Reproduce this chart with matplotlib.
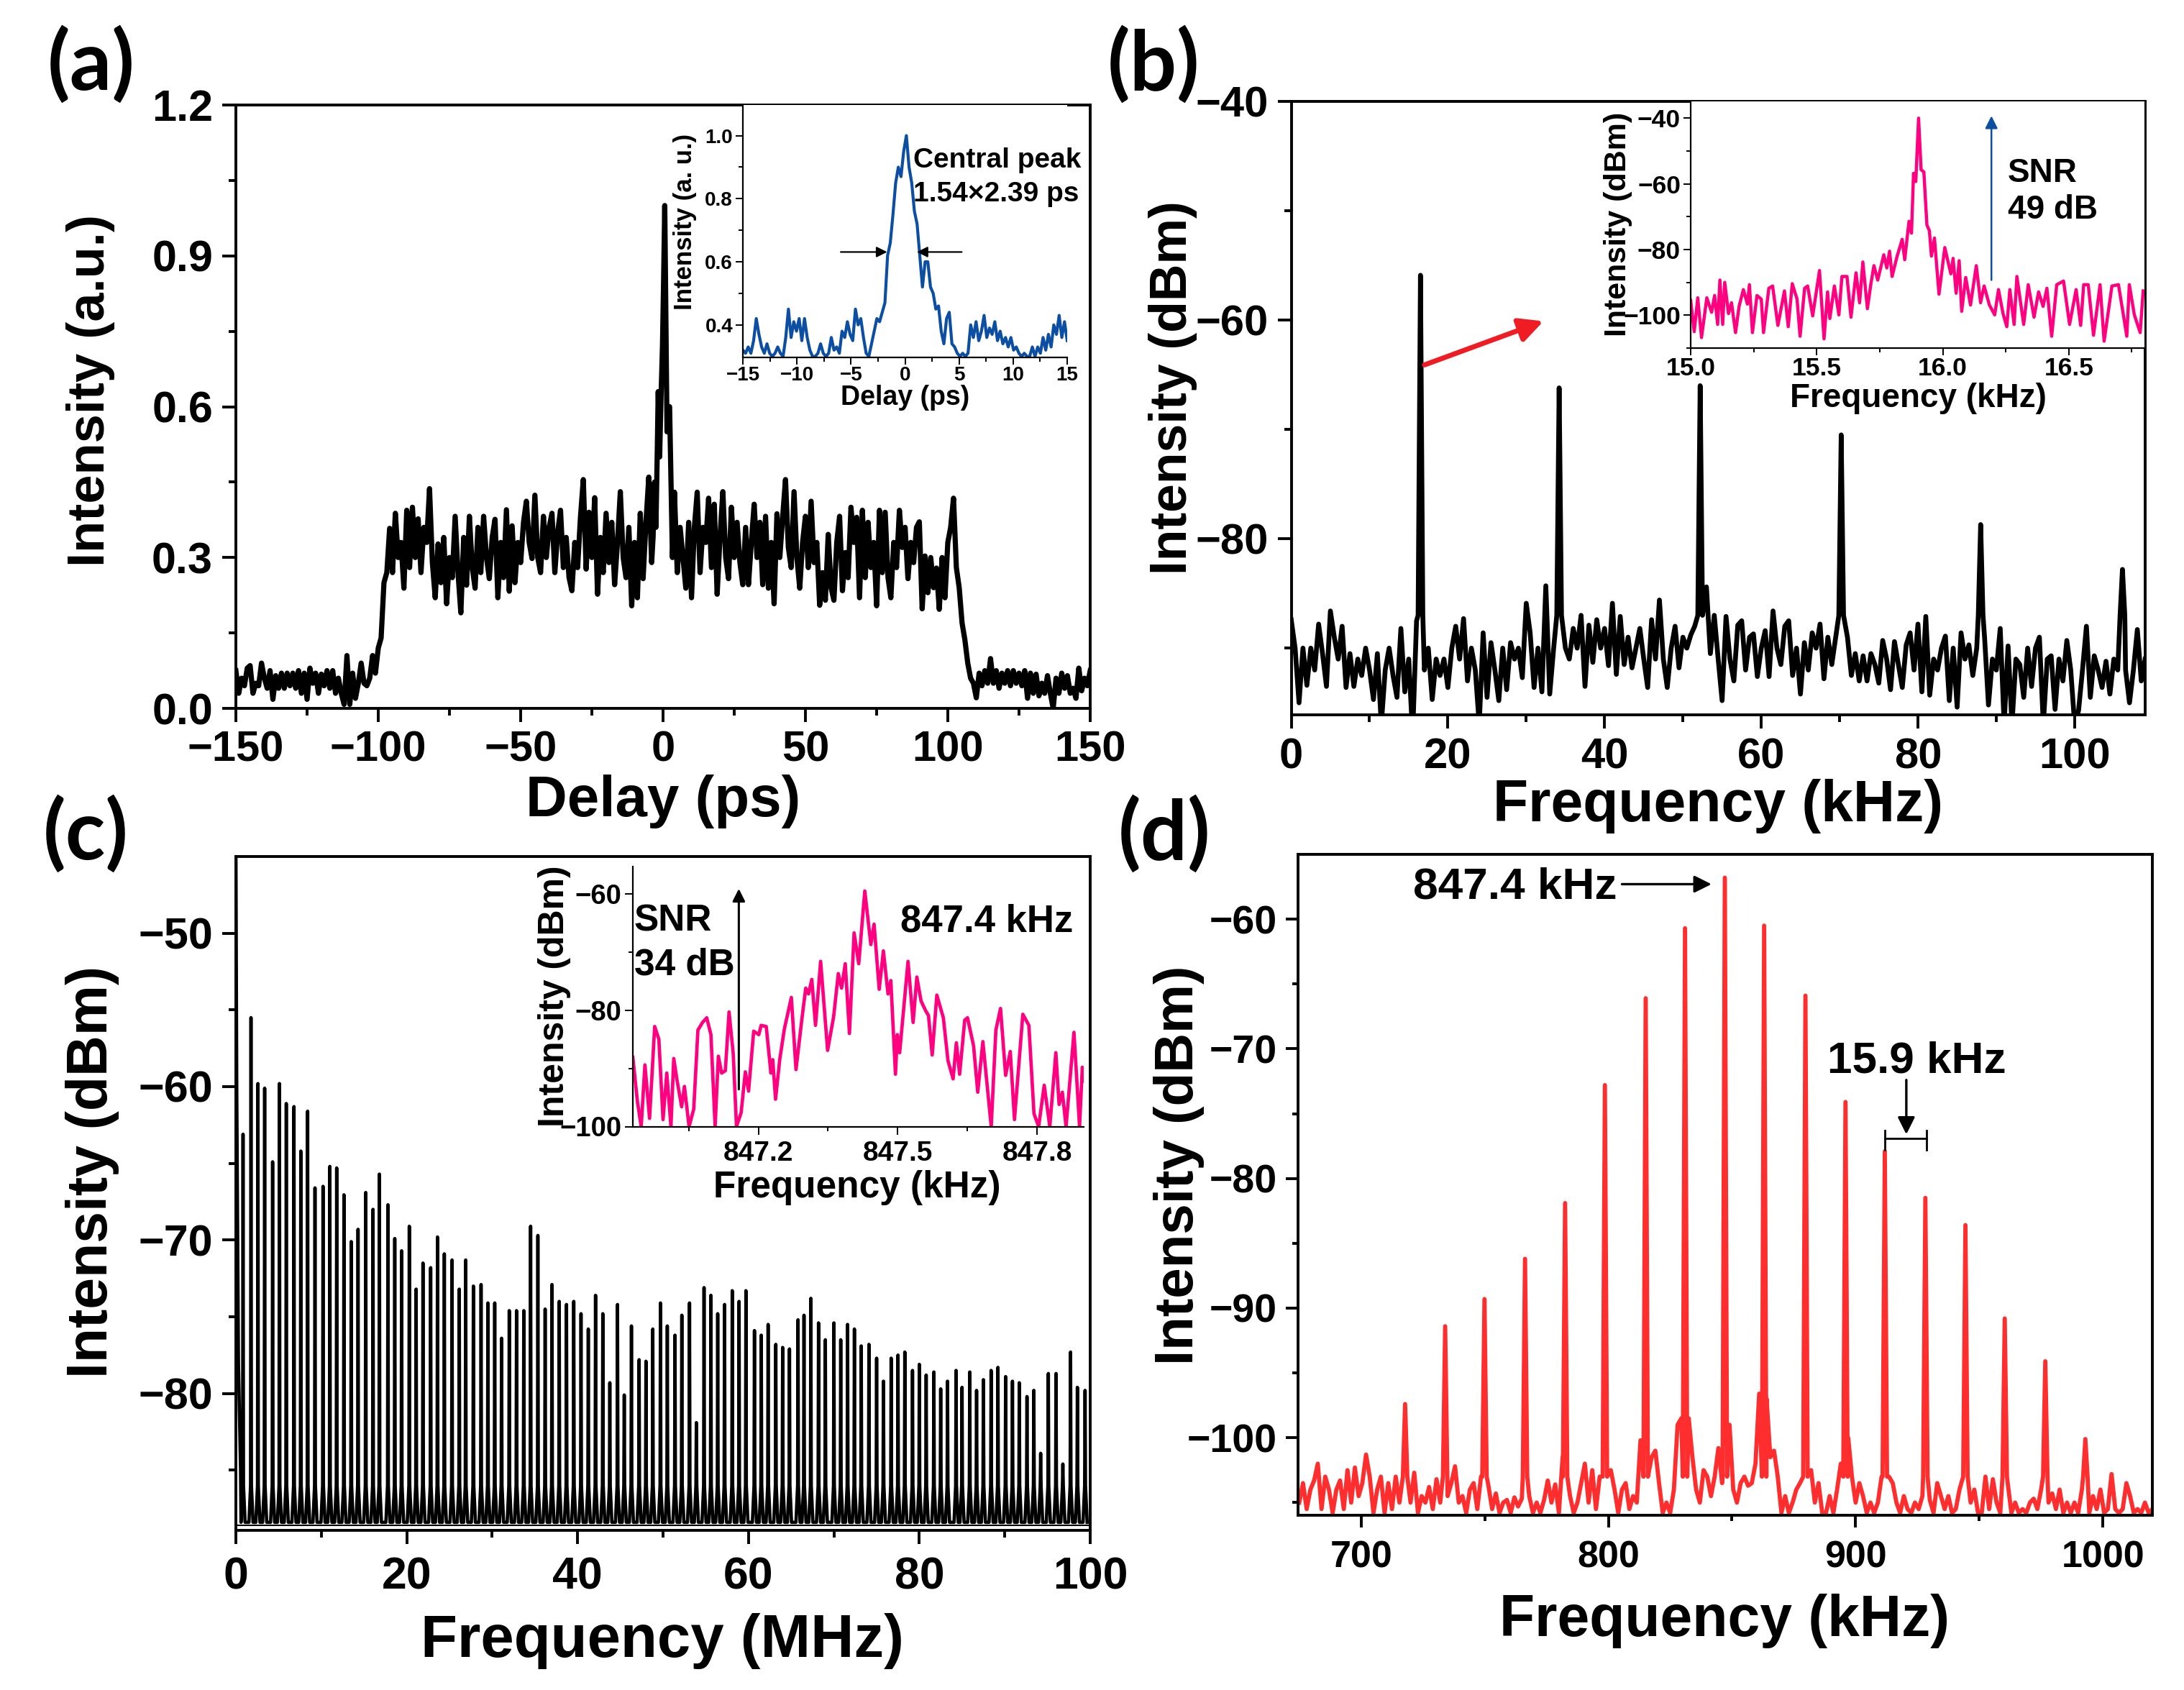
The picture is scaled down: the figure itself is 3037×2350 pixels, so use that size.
#Four panel spectrum figure
import numpy as np
import matplotlib
matplotlib.use('Agg')
import matplotlib.pyplot as plt
from matplotlib.transforms import Affine2D

W, H = 3037, 2350

plt.rcParams['font.family'] = ['Liberation Sans', 'DejaVu Sans']
plt.rcParams['font.weight'] = 'bold'
plt.rcParams['axes.labelweight'] = 'bold'
plt.rcParams['axes.unicode_minus'] = True

#(a) main trace
a_left = [.075,.03,.06,.045,.08,.085,.03,.05,.045,.09,.06,.04,.075,.018,.065,.04,.07,.04,.07,.045,.07,.04,.075,.03,.07,.018,
          .08,.05,.07,.03,.068,.045,.075,.04,.075,.03,.06,.03,.008,.105,.008,.07,.02,.05,.09,.05,.045,.06,.105,.07,.12,.14,.25,
          .27,.358,.27,.388,.30,.33,.239,.394,.28,.40,.30,.377,.27,.36,.33,.437,.29,.22,.327,.25,.34,.208,.30,.26,.382,.27,.19,
          .34,.245,.382,.28,.239,.36,.27,.382,.30,.258,.34,.376,.22,.33,.26,.395,.233,.363,.25,.33,.29,.37,.412,.33,.298,.424,
          .30,.27,.382,.30,.36,.388,.27,.35,.394,.28,.34,.26,.234,.33,.28,.38,.455,.277,.39,.30,.419,.227,.34,.27,.388,.29,.37,
          .246,.33,.431,.30,.26,.36,.204,.33,.22,.388,.258,.37,.46,.29]
a_center_x = [-3.5,-3,-2.5,-2,-1.7,-1.2,-.7,-.2,.2,.6,1,1.4,1.9,2.3,2.8,3.3,3.7]
a_center_y = [.34,.45,.36,.52,.63,.50,.62,.72,.85,1.0,.78,.55,.60,.60,.45,.30,.36]
a_right = [.43,.27,.36,.30,.239,.37,.22,.36,.43,.27,.36,.33,.418,.28,.406,.227,.34,.431,.30,.258,.40,.30,.37,.29,.246,.36,.246,
           .33,.406,.30,.37,.246,.382,.239,.33,.208,.387,.30,.38,.455,.32,.28,.431,.30,.239,.33,.382,.28,.412,.29,.33,.205,.27,
           .215,.346,.24,.215,.33,.382,.234,.31,.26,.40,.33,.38,.22,.394,.26,.37,.28,.33,.204,.394,.27,.39,.26,.22,.33,.28,.394,
           .32,.36,.258,.33,.29,.36,.371,.198,.303,.23,.30,.24,.279,.197,.30,.22,.33,.36,.418,.28,.24,.17,.136,.09,.06,.05,.021,
           .07,.045,.075,.05,.099,.05,.075,.04,.07,.05,.075,.045,.075,.05,.07,.045,.075,.02,.07,.03,.068,.025,.05,.03,.065,.03,
           0.0,.06,.03,.07,.04,.065,.03,.04,.02,.08,.035,.06,.045,.075]

#(a) inset
a_inset = [.32,.31,.33,.31,.35,.42,.37,.33,.31,.34,.31,.30,.31,.33,.31,.30,.36,.45,.36,.41,.38,.42,.35,.42,.36,.32,.30,.30,.31,.34,
           .31,.30,.31,.36,.32,.33,.31,.38,.36,.41,.37,.35,.45,.40,.42,.36,.31,.30,.34,.38,.42,.41,.44,.47,.62,.66,.75,.85,.90,.87,
           .95,1.0,.90,.85,.76,.72,.62,.52,.60,.60,.52,.50,.45,.46,.38,.34,.42,.44,.34,.33,.31,.30,.31,.30,.31,.40,.36,.41,.35,.38,
           .43,.36,.39,.37,.41,.35,.38,.34,.36,.33,.36,.32,.33,.31,.30,.31,.30,.30,.33,.30,.33,.31,.36,.32,.37,.33,.40,.37,.43,.36,.41,.35]

#(b) main noise floor and tones
b_noise = [-87.4,-90,-95,-90,-93.4,-90,-92,-87.8,-90.5,-93.5,-86.6,-89,-91,-88,-93.6,-90.5,-93.5,-91,-92.5,-90,-92,-94.7,-90.5,-97,
           -92,-90,-92.5,-94.5,-88.2,-94,-91,-98,-87.5,-88,-92,-90,-94.7,-91,-92.5,-91,-93.6,-90,-88,-91,-87.3,-93,-90,-92,-97,-88.6,
           -94.5,-89.5,-92,-94.8,-90,-93.8,-89.5,-91,-90,-92.7,-85.9,-88.6,-93.6,-90,-94,-84.3,-94.2,-90,-88,-88,-90,-91,-88.2,-90,-87,
           -93.5,-87.9,-91.3,-87.4,-90,-88.2,-91.6,-85.9,-92.4,-87.1,-91.5,-89,-91.8,-90,-88.2,-91,-93.6,-87.4,-91,-85.6,-91,-93.6,-90,
           -88,-91.8,-89,-90,-88.8,-88,-86,-85,-84.4,-90.5,-87,-91,-94.8,-87.1,-91,-93,-87.9,-87.5,-92,-89,-88.7,-92.6,-90,-88.4,-92.6,
           -86.6,-90,-91.5,-88,-87.5,-92.5,-90,-94.2,-89.5,-92,-88.6,-90,-87.8,-92.8,-89,-91.5,-89,-88,-88,-89,-92.5,-90.5,-93,-90.7,-93,
           -90.5,-91.5,-93.2,-89.3,-91,-93.8,-89.4,-91.5,-93.6,-89.7,-88.6,-92,-87.8,-94,-87.1,-94.3,-91,-92,-90,-88.9,-94.8,-90,-95.4,
           -88.6,-91,-89.7,-92.5,-90,-88,-89,-95.2,-91,-92,-88.2,-97,-89.8,-97,-91,-91.5,-94.5,-90,-93.5,-90,-89,-97,-91,-90.7,-95.6,-91,
           -93,-89.3,-92,-97,-95.7,-92,-88,-94.5,-90.7,-92,-93.6,-91.2,-94.2,-91,-92,-88,-92,-95,-92,-88.3,-93,-91]
b_peak_freq = [16.5, 34.2, 52.2, 70.2, 88.0, 106.1]
b_peak_level = [-55.9, -66.2, -66.0, -70.5, -78.7, -82.8]

#(b) inset
b_inset_freq = [15.000,15.014,15.028,15.043,15.064,15.083,15.095,15.107,15.116,15.127,15.135,15.150,15.162,15.178,15.192,15.209,
                15.225,15.233,15.245,15.263,15.280,15.289,15.310,15.325,15.346,15.372,15.387,15.403,15.422,15.434,15.452,15.464,
                15.484,15.511,15.529,15.543,15.552,15.570,15.588,15.600,15.620,15.636,15.656,15.670,15.683,15.701,15.715,15.727,
                15.742,15.766,15.778,15.789,15.799,15.819,15.839,15.849,15.866,15.876,15.884,15.893,15.904,15.914,15.925,15.937,
                15.947,15.955,15.967,15.985,16.008,16.032,16.041,16.053,16.065,16.075,16.091,16.110,16.133,16.150,16.164,16.185,
                16.206,16.221,16.239,16.254,16.266,16.283,16.294,16.321,16.339,16.362,16.380,16.398,16.413,16.432,16.452,16.479,
                16.503,16.529,16.547,16.559,16.577,16.598,16.624,16.640,16.671,16.697,16.730,16.740,16.760,16.783,16.795]
b_inset_level = [-95.5,-105,-94.7,-106.8,-94.7,-99.1,-94,-102.8,-89.3,-102.8,-90,-99.5,-96.2,-105.3,-97.3,-92.2,-96.6,-90.7,-105.3,-94,
                 -95.1,-105.3,-91.8,-91.1,-103.1,-92.6,-103.5,-90.4,-95.1,-106.4,-91.8,-91.1,-100.2,-86.4,-107.2,-92.9,-101,-91.1,-99.9,
                 -88.2,-88.2,-100.6,-87.1,-96.2,-83.8,-98,-90.4,-84.9,-89.3,-81.6,-85.6,-80.5,-88.2,-82,-76.9,-83.1,-71.4,-75,-56.8,-59.3,
                 -40,-55.7,-56.4,-72.5,-74.3,-82,-76.5,-93.6,-79.4,-87.4,-82.7,-93.3,-83.4,-98.8,-88.5,-96.9,-84.9,-96.2,-91.1,-96.9,-99.9,
                 -92.2,-99.5,-103.5,-92.2,-102.8,-88.2,-102.8,-90.7,-100.6,-92.9,-97.3,-91.8,-106.4,-90.7,-89.6,-102.8,-92.2,-103.1,-90.7,
                 -90.7,-106.1,-90.7,-107.9,-91.1,-90.7,-106.4,-90.7,-99.9,-105.3,-92.6]

#(c) main comb
c_tooth_freq = [.84,1.77,2.58,3.37,4.3,5.1,5.9,6.8,7.6,8.4,9.26,10.2,11,11.8,12.65,13.5,14.3,15.2,16.05,16.8,17.8,18.6,19.4,20.3,21.1,
                21.9,22.8,23.6,24.4,25.3,26.15,26.9,27.8,28.7,29.5,30.3,31.1,32,32.85,33.7,34.5,35.35,36.2,37,37.85,38.7,39.55,40.4,
                41.25,42.1,42.95,43.77,44.67,45.46,46.3,47.2,48,48.8,49.7,50.5,51.4,52.2,53.1,53.9,54.8,55.6,56.4,57.2,58.1,58.9,59.7,
                60.7,61.5,62.3,63.2,64,64.8,65.8,66.5,67.3,68.2,69,70,70.8,71.6,72.4,73.2,74.1,75,75.8,76.7,77.5,78.3,79.2,80,80.8,81.7,
                82.5,83.3,84.3,85,85.9,86.7,87.5,88.4,89.2,90.1,90.9,91.7,92.6,93.4,94.2,95.1,96,96.8,97.7,98.5,99.4]
c_tooth_level = [-63.1,-55.5,-59.8,-60.1,-64.9,-59.8,-61.1,-61.3,-64.2,-61.6,-66.6,-66.5,-65.2,-65.3,-67.05,-70.1,-69.3,-66.9,-68,-65.7,-67.7,
                 -69.9,-70.7,-69.1,-73.2,-71.5,-71.8,-69.8,-70.9,-71.3,-73.2,-71.3,-73,-72.9,-74.1,-74.1,-76.4,-74.6,-74.6,-74.6,-69.1,-69.7,
                 -74.5,-72.9,-74,-74.2,-74,-74.8,-75.8,-73.6,-74.8,-79.3,-74.2,-80.1,-75.6,-77.8,-77.9,-75.8,-74.1,-75.6,-76.2,-74.9,-74.1,
                 -81.9,-73.1,-73.6,-74.8,-74.2,-73.3,-74,-73.3,-75.9,-76.2,-75.5,-76.8,-77,-77.1,-75.2,-74.9,-73.8,-75.4,-76.5,-75.4,-76.5,
                 -75.5,-75.8,-76.9,-76.8,-77.7,-79.2,-77.7,-77.5,-77.3,-78.5,-78.1,-78.8,-78.6,-79.7,-79.2,-78.5,-79.6,-78.6,-79.8,-79.1,-78.5,
                 -78.3,-78.9,-79.2,-79.3,-80.2,-79.8,-83.9,-78.7,-78.7,-84.6,-77.3,-79.6,-79.8]
c_start_freq = [0, .1, .3, .55]
c_start_level = [-44, -60, -78, -85]

#(c) inset
c_inset_freq = [846.930,846.940,846.948,846.956,846.966,846.977,846.986,846.995,847.003,847.012,847.018,847.025,847.035,847.041,847.051,
                847.061,847.070,847.080,847.089,847.098,847.107,847.114,847.121,847.129,847.137,847.146,847.153,847.163,847.172,847.179,
                847.190,847.201,847.206,847.217,847.227,847.231,847.237,847.246,847.256,847.271,847.281,847.294,847.302,847.308,847.315,
                847.323,847.334,847.349,847.362,847.372,847.379,847.387,847.396,847.406,847.416,847.429,847.442,847.449,847.460,847.469,
                847.479,847.485,847.495,847.499,847.504,847.522,847.533,847.541,847.550,847.560,847.566,847.574,847.584,847.598,847.608,
                847.619,847.626,847.633,847.644,847.650,847.663,847.672,847.683,847.701,847.711,847.721,847.732,847.742,847.751,847.769,
                847.782,847.793,847.803,847.815,847.827,847.840,847.847,847.854,847.862,847.879,847.891,847.897,847.901]
c_inset_level = [-88.1,-95.8,-100,-89.4,-98.6,-82.8,-85,-98.8,-90.8,-100,-88.3,-92,-96.6,-93.1,-100,-97,-83.4,-82.1,-81.3,-84.2,-100,-87.9,
                 -90.8,-90.4,-80.3,-87.5,-100,-97.6,-90.6,-93.9,-83.6,-84.2,-82.6,-82.8,-90.8,-88.5,-95.3,-88.5,-83.2,-77.8,-90.2,-81.3,-76.2,
                 -77.2,-74.7,-82.6,-71.6,-86.9,-81.1,-73.7,-76.2,-72,-84,-66.7,-72,-59.5,-68.7,-65.2,-76.4,-69.8,-77.2,-74.9,-91,-84.2,-87.3,
                 -71.6,-82.1,-74.3,-78.4,-80.1,-80.9,-87.7,-77.4,-81.3,-88.7,-91.8,-85.6,-91,-81.7,-81.3,-86.1,-94.1,-85.4,-100,-83.4,-79.7,
                 -91.2,-87.1,-98.8,-80.7,-82.6,-97.8,-100,-92.9,-100,-87.3,-96.2,-94.1,-100,-83.8,-100,-89.8,-92.2]

#(d) main noise floor and tones
d_noise = [-105,-103.5,-105.5,-104,-103.3,-102,-105.5,-103,-104,-105.8,-104,-103.3,-105.5,-102.5,-105,-102.3,-104.5,-103.5,-101.3,-103,-105.8,
           -104,-103,-105.8,-103.5,-105.5,-103,-105,-103.3,-103,-105,-102.7,-105.8,-104.5,-105,-103.8,-105.5,-103.2,-105,-103,-104.5,-103.5,-102.2,
           -105,-104.5,-105.8,-104,-103.5,-105.5,-103,-104,-103.7,-105.5,-104.3,-105.8,-105,-104.8,-105.8,-104.6,-105.3,-104.7,-103,-104.5,-105.8,
           -105,-105.8,-104.8,-103.3,-105,-103.6,-105.8,-101.5,-102.5,-104.5,-105.8,-105,-103.5,-102,-105,-102.5,-105.5,-103,-101.5,-103,-102.5,-104,
           -105.8,-104,-103.5,-105.5,-104.5,-105,-100.2,-101,-100,-101.5,-101,-103.5,-105.8,-105,-105.8,-104,-99,-98.5,-97,-98.5,-101.5,-104,-105,
           -102.5,-103,-104.5,-103,-100.8,-103.5,-104,-99,-104,-105,-103.5,-103,-103.7,-103.5,-102,-96.6,-97.5,-97,-101.5,-101,-103,-105.8,-104.5,
           -105.8,-105,-104,-103.5,-101.5,-101.5,-102.5,-105,-103.5,-105.8,-105.8,-104.5,-105.8,-104,-102,-100,-100,-103,-105,-103.5,-104.5,-105.8,
           -105,-105.8,-105,-103,-102,-103,-103.5,-105,-105.8,-104.5,-105.5,-105.8,-105,-105.5,-104.5,-104,-104.8,-105.8,-103.5,-104.5,-105.5,-104.5,
           -105.8,-105.5,-104,-104.5,-103.5,-105,-104,-105.8,-105.8,-103,-105.5,-103.2,-105,-105.8,-105,-103.5,-105.8,-105,-105.8,-105.5,-105.8,-105,
           -104.7,-105.5,-104,-103.5,-105,-104.3,-105.5,-104,-105.8,-105,-105.8,-105,-105.8,-104,-104.5,-105.8,-104.5,-105.5,-104,-105.8,-105.5,-102.8,
           -105.5,-105.8,-105.5,-103.5,-104.5,-105.8,-105.5,-105.8,-105,-105.8,-105.5]
d_peak_freq = [717.8,734,749.9,766.3,782.5,798.6,815.1,831,847.1,863,879.7,895.9,911.8,928.2,944.4,960.3,976.7,992.9]
d_peak_level = [-97.4,-91.4,-89.3,-86.2,-81.9,-72.8,-66.1,-60.7,-56.8,-60.5,-65.9,-74.1,-77.9,-81.5,-83.6,-90.8,-94.1,-100.1]

#colours
BLUE = '#0B4EA2'
PINK = '#FF0080'
RED = '#FF2E2E'

fig = plt.figure(figsize=(W / 100, H / 100), dpi=100)
#pixel coordinates measured from the top left of the picture
px = Affine2D().scale(1 / W, -1 / H).translate(0, 1) + fig.transFigure


def make_axes(left, right, top, bottom):
    return fig.add_axes([left / W, 1 - bottom / H, (right - left) / W, (bottom - top) / H])


def style(ax, spine, major, minor, width, xsize, ysize, xpad, ypad):
    for s in ax.spines.values():
        s.set_linewidth(spine)
    ax.tick_params(which='major', length=major, width=width)
    ax.tick_params(which='minor', length=minor, width=width)
    ax.tick_params(axis='x', which='major', labelsize=xsize, pad=xpad)
    ax.tick_params(axis='y', which='major', labelsize=ysize, pad=ypad)


def labels(ax, xtext, xsize, xpos, ytext, ysize, ypos):
    ax.set_xlabel(xtext, fontsize=xsize, va='center', ha='center')
    ax.xaxis.set_label_coords(xpos[0], xpos[1], transform=px)
    ax.set_ylabel(ytext, fontsize=ysize, va='center', ha='center')
    ax.yaxis.set_label_coords(ypos[0], ypos[1], transform=px)


def note(x, y, s, size):
    fig.text(x, y + 4, s, transform=px, fontsize=size, va='center', ha='left')


def arrow(ax, start, end, color='black', lw=2.0, scale=30):
    ax.annotate('', xy=end, xytext=start,
                arrowprops=dict(arrowstyle='-|>', color=color, lw=lw, mutation_scale=scale,
                                shrinkA=0, shrinkB=0))


def with_peaks(freq, level, peak_freq, peak_level, half, foot):
    #drop the floor under each tone and put the tone in its place
    freq = np.array(freq, dtype=float)
    level = np.array(level, dtype=float)
    keep = np.ones(len(freq), dtype=bool)
    for f in peak_freq:
        keep &= np.abs(freq - f) > half
    xs = [freq[keep]]
    ys = [level[keep]]
    for f, h in zip(peak_freq, peak_level):
        xs.append(np.array([f - half, f, f + half]))
        ys.append(np.array([foot, h, foot]))
    x = np.concatenate(xs)
    y = np.concatenate(ys)
    order = np.argsort(x)
    return x[order], y[order]


#(a)
ax = make_axes(328, 1516, 146, 985)
delay = np.concatenate([np.arange(-150, -3), a_center_x, np.arange(4, 151)])
ax.plot(delay, np.concatenate([a_left, a_center_y, a_right]), color='black', lw=5.2)
ax.set_xlim(-150, 150)
ax.set_ylim(0, 1.2)
ax.set_xticks([-150, -100, -50, 0, 50, 100, 150])
ax.set_xticks([-125, -75, -25, 25, 75, 125], minor=True)
ax.set_yticks([0, .3, .6, .9, 1.2])
ax.set_yticks([.15, .45, .75, 1.05], minor=True)
style(ax, 2.8, 14, 7, 2.8, 43, 44, 8, 9)
labels(ax, 'Delay (ps)', 57.5, (922, 1114), 'Intensity (a.u.)', 52, (126, 543))

ins = make_axes(1033, 1484, 146, 496.5)
ins.plot(np.linspace(-15, 15, len(a_inset)), a_inset, color=BLUE, lw=3.0)
ins.set_xlim(-15, 15)
ins.set_ylim(.298, 1.097)
ins.set_xticks([-15, -10, -5, 0, 5, 10, 15])
ins.set_xticks([-12.5, -7.5, -2.5, 2.5, 7.5, 12.5], minor=True)
ins.set_yticks([.4, .6, .8, 1.0])
ins.set_yticks([.5, .7, .9], minor=True)
ins.spines['top'].set_visible(False)
ins.spines['right'].set_visible(False)
style(ins, 1.6, 7, 4, 1.4, 20, 20, 2, 3)
labels(ins, 'Delay (ps)', 27, (1259, 553), 'Intensity (a. u.)', 25, (953, 308))
arrow(ins, (-5.95, .631), (-1.65, .631), lw=1.6, scale=22)
arrow(ins, (5.25, .631), (1.1, .631), lw=1.6, scale=22)
note(1270, 219, 'Central peak', 28)
note(1270, 266, '1.54\u00d72.39 ps', 28)

#(b)
ax = make_axes(1795.5, 2983, 141, 994)
bx, by = with_peaks(np.linspace(0, 109, len(b_noise)), b_noise, b_peak_freq, b_peak_level, .3, -87)
ax.plot(bx, by, color='black', lw=4.8)
ax.set_xlim(0, 109)
ax.set_ylim(-96.1, -40)
ax.set_xticks([0, 20, 40, 60, 80, 100])
ax.set_xticks([10, 30, 50, 70, 90], minor=True)
ax.set_yticks([-80, -60, -40])
ax.set_yticks([-90, -70, -50], minor=True)
style(ax, 2.8, 14, 7, 2.8, 43, 43, 9, 9)
labels(ax, 'Frequency (kHz)', 58, (2389, 1121), 'Intensity (dBm)', 51.5, (1631, 539))
arrow(ax, (17.0, -64.1), (32.2, -60.1), color='#F01C24', lw=5, scale=50)

ins = make_axes(2351, 2982, 141, 484)
ins.plot(b_inset_freq, b_inset_level, color=PINK, lw=3.2)
ins.set_xlim(15, 16.8)
ins.set_ylim(-110, -34.9)
ins.set_xticks([15, 15.5, 16, 16.5])
ins.set_xticks([15.25, 15.75, 16.25, 16.75], minor=True)
ins.set_yticks([-100, -80, -60, -40])
ins.set_yticks([-110, -90, -70, -50], minor=True)
ins.spines['top'].set_visible(False)
ins.spines['right'].set_visible(False)
style(ins, 1.6, 7, 4, 1.4, 25.5, 25.5, 2, 3)
labels(ins, 'Frequency (kHz)', 33, (2667, 554), 'Intensity (dBm)', 31, (2250, 312))
arrow(ins, (16.193, -89.3), (16.193, -39.3), color=BLUE, lw=1.8, scale=26)
note(2792, 237, 'SNR', 33)
note(2792, 288, '49 dB', 33)

#(c)
ax = make_axes(328, 1516, 1191, 2127.5)
cx = list(c_start_freq)
cy = list(c_start_level)
for f, h in zip(c_tooth_freq, c_tooth_level):
    cx += [f - .24, f - .05, f, f + .05, f + .24]
    cy += [-88.4, -86, h, -86, -88.4]
ax.plot(cx, cy, color='black', lw=3.3)
ax.axhline(-88.6, color='black', lw=1.5)
ax.set_xlim(0, 100)
ax.set_ylim(-88.9, -45)
ax.set_xticks([0, 20, 40, 60, 80, 100])
ax.set_xticks([10, 30, 50, 70, 90], minor=True)
ax.set_yticks([-80, -70, -60, -50])
ax.set_yticks([-85, -75, -65, -55], minor=True)
style(ax, 2.8, 14, 7, 2.8, 45, 44, 12, 9)
labels(ax, 'Frequency (MHz)', 60, (921, 2282), 'Intensity (dBm)', 56.7, (129, 1630))

ins = make_axes(880, 1507, 1205, 1566.5)
ins.plot(c_inset_freq, c_inset_level, color=PINK, lw=3.4)
ins.set_xlim(846.93, 847.9)
ins.set_ylim(-100, -55.3)
ins.set_xticks([847.2, 847.5, 847.8])
ins.set_xticks([847.05, 847.35, 847.65], minor=True)
ins.xaxis.get_major_formatter().set_useOffset(False)
ins.set_yticks([-100, -80, -60])
ins.set_yticks([-90, -70], minor=True)
ins.spines['top'].set_visible(False)
ins.spines['right'].set_visible(False)
style(ins, 1.6, 8, 4, 1.4, 28, 27.5, 6, 3)
labels(ins, 'Frequency (kHz)', 37, (1192, 1652), 'Intensity (dBm)', 36, (771, 1385))
arrow(ins, (847.158, -93.6), (847.158, -59.1), lw=2.2, scale=26)
note(882, 1277, 'SNR', 37)
note(882, 1338, '34 dB', 37)
note(1252.5, 1277, '847.4 kHz', 38)

#(d)
ax = make_axes(1805, 2993, 1188, 2106.5)
dx, dy = with_peaks(np.linspace(675, 1020, len(d_noise)), d_noise, d_peak_freq, d_peak_level, .9, -103)
ax.plot(dx, dy, color=RED, lw=4.2)
ax.set_xlim(674.5, 1020)
ax.set_ylim(-105.95, -55)
ax.set_xticks([700, 800, 900, 1000])
ax.set_xticks([750, 850, 950], minor=True)
ax.set_yticks([-100, -90, -80, -70, -60])
ax.set_yticks([-105, -95, -85, -75, -65], minor=True)
style(ax, 2.8, 12, 6, 2.8, 37.5, 40, 13, 9)
labels(ax, 'Frequency (kHz)', 58, (2398, 2254), 'Intensity (dBm)', 55, (1640, 1620))
arrow(ax, (805.5, -57.3), (841.7, -57.3), lw=2.4, scale=36)
arrow(ax, (920.5, -72.4), (920.5, -76.6), lw=2.4, scale=36)
ax.plot([911.8, 928.8], [-76.9, -76.9], color='black', lw=2)
ax.plot([911.8, 911.8], [-76.3, -77.8], color='black', lw=2)
ax.plot([928.8, 928.8], [-76.3, -77.8], color='black', lw=2)
note(1965, 1230, '847.4 kHz', 44.7)
note(2541.5, 1472, '15.9 kHz', 44.7)

#panel letters
for x, y, s in [(66, 90, '(a)'), (1540, 90, '(b)'), (60, 1160, '(c)'), (1555, 1160, '(d)')]:
    fig.text(x, y, s, transform=px, fontsize=83, family=['Lato', 'DejaVu Sans'], weight='bold',
             va='center', ha='left')

fig.savefig('out.png', dpi=100)
